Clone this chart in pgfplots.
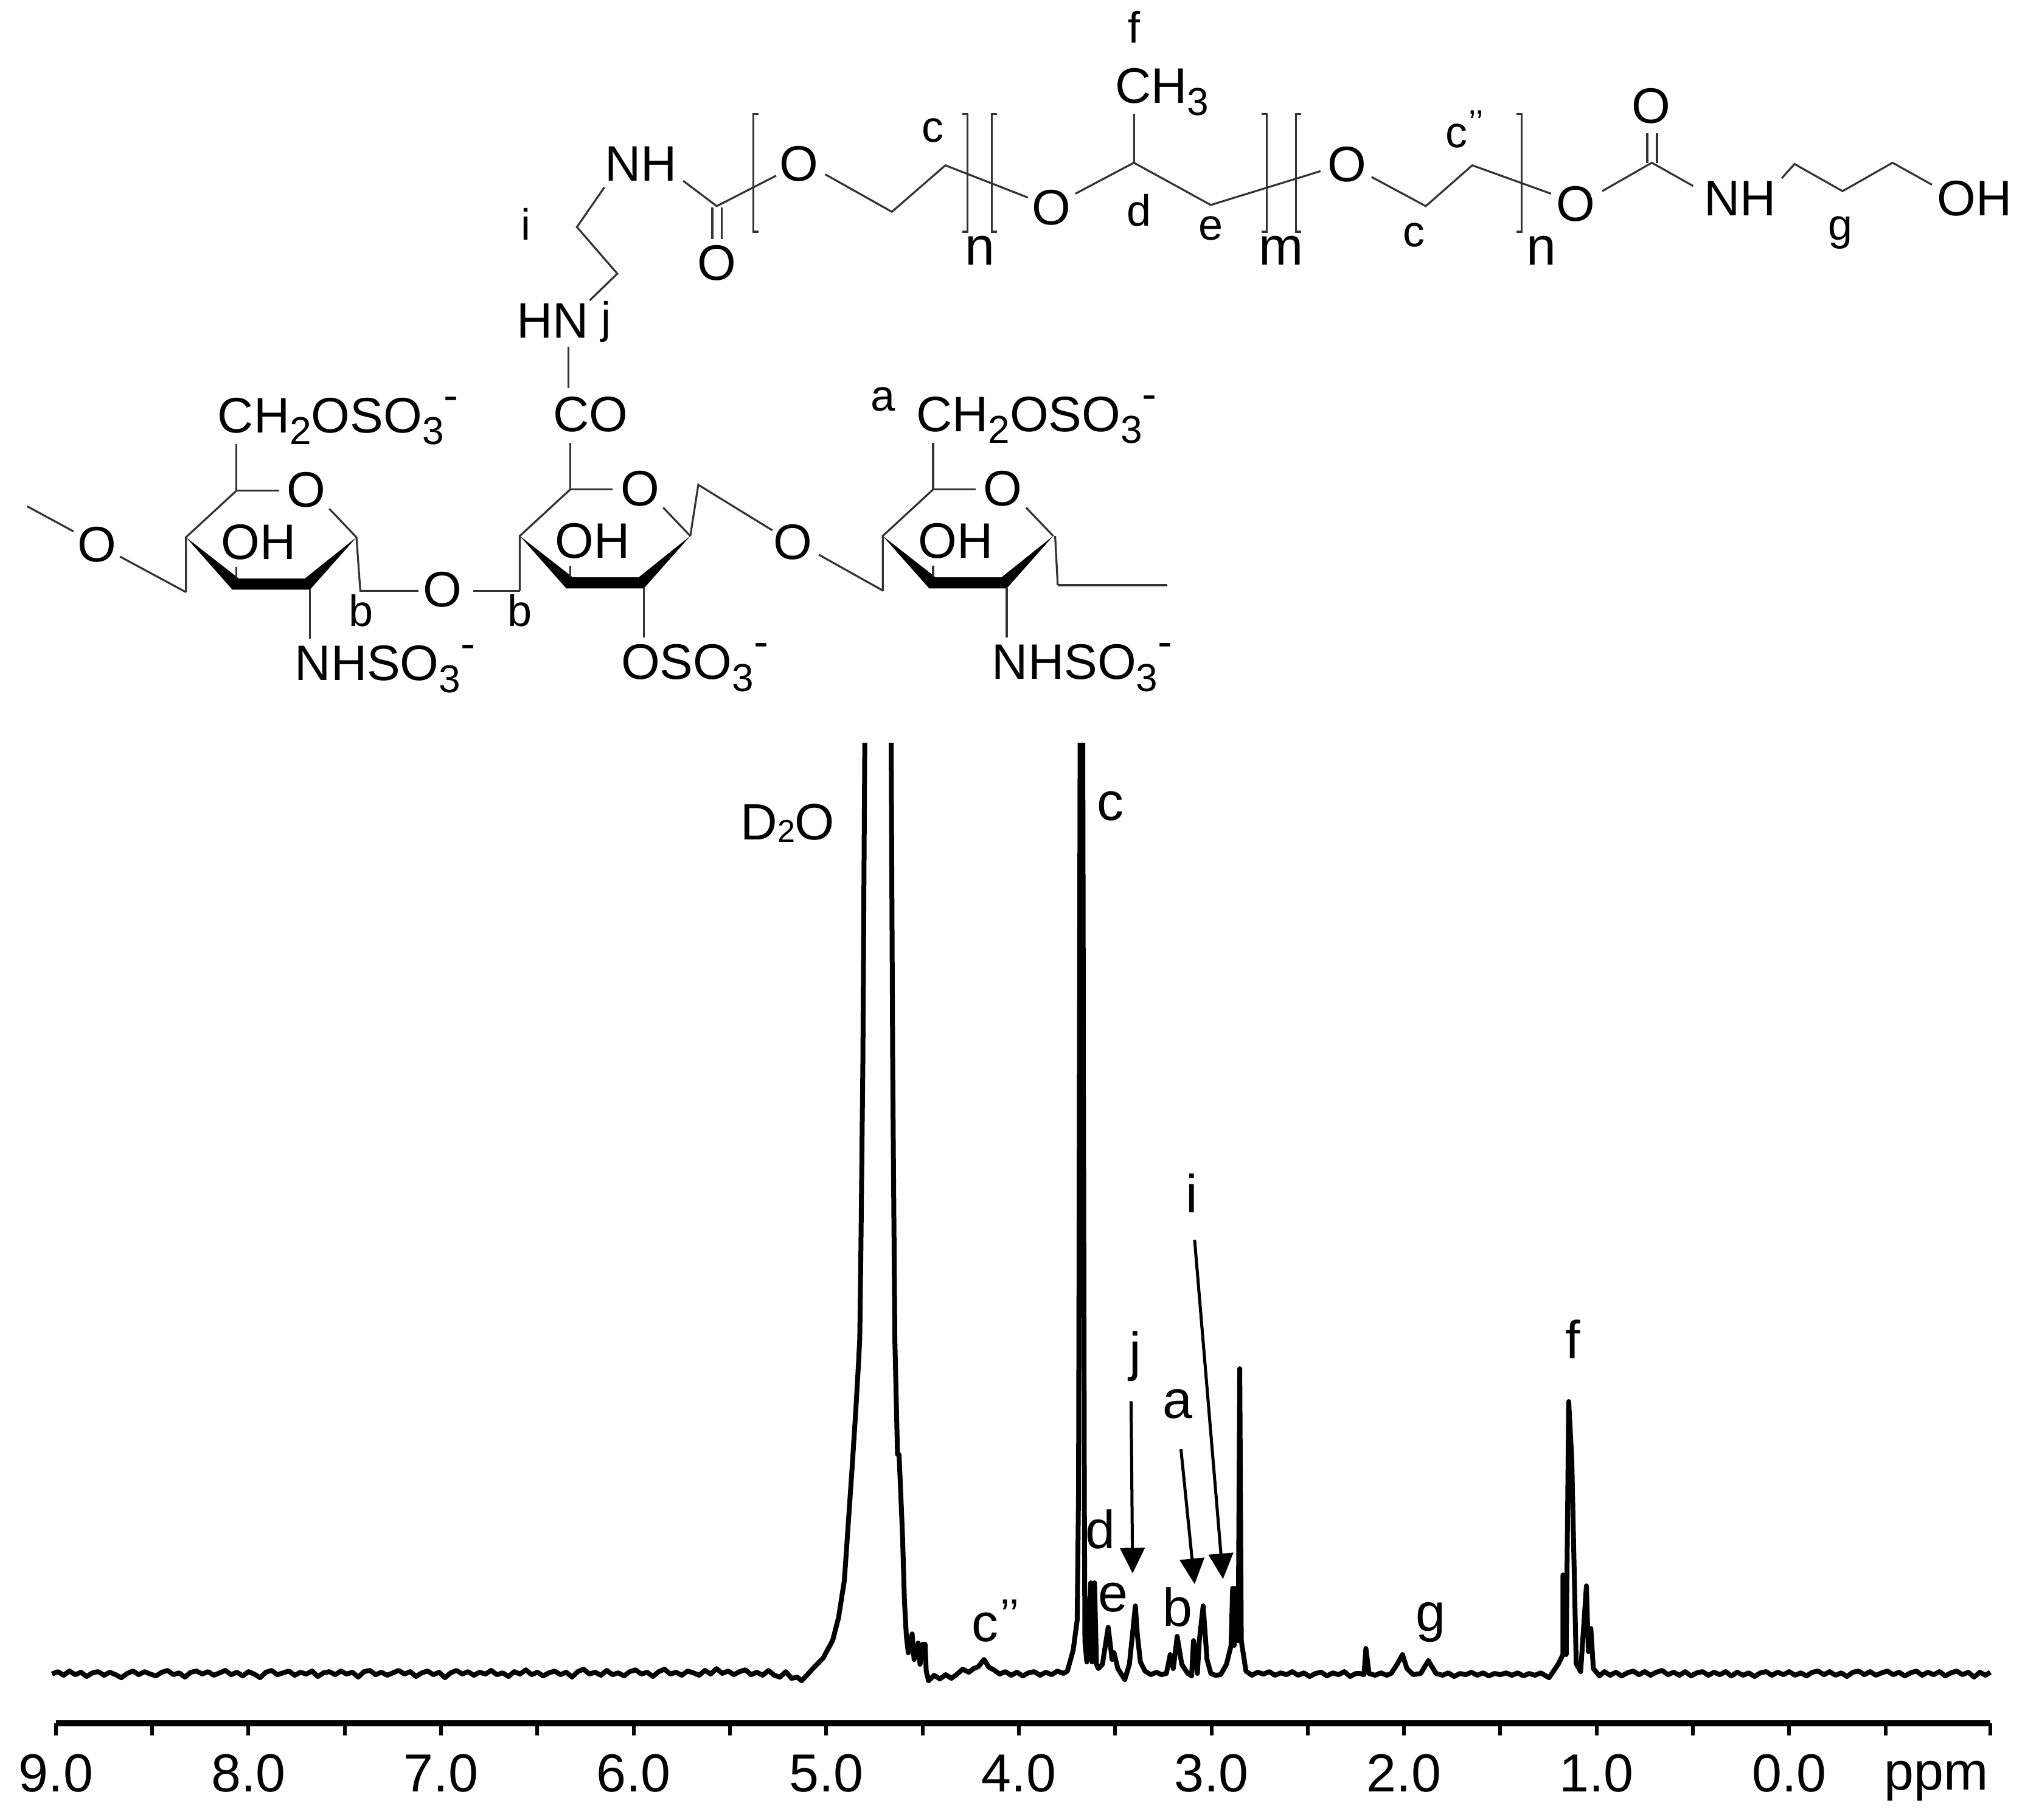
\documentclass[border=0pt]{standalone}
\usepackage{fontspec}
\setmainfont{Liberation Sans}
\usepackage{pgfplots}
\pgfplotsset{compat=1.18}
\usetikzlibrary{arrows.meta}

\newcommand{\sbs}[1]{\raisebox{-.45ex}{\fontsize{16}{16}\selectfont #1}}
\newcommand{\sps}{\raisebox{.85ex}{\fontsize{18}{18}\selectfont -}}

\begin{document}
\begin{tikzpicture}
\useasboundingbox (0,0) rectangle (832.25pt,-747.75pt);

\begin{axis}[
  at={(22.98pt,-708.26pt)}, anchor=south west,
  scale only axis, width=795pt, height=403pt,
  clip=false,
  x dir=reverse,
  xmin=-1.044, xmax=9, ymin=-82, ymax=1530,
  axis x line=bottom, axis y line=none,
  axis line style={line width=2.5pt,-},
  xtick={9,8.5,8,7.5,7,6.5,6,5.5,5,4.5,4,3.5,3,2.5,2,1.5,1,0.5,0,-0.5,-1.044},
  xticklabels={9.0,,8.0,,7.0,,6.0,,5.0,,4.0,,3.0,,2.0,,1.0,,0.0,,,},
  tick align=outside, major tick length=5pt,
  x tick style={line width=1.5pt,black},
  xticklabel style={anchor=base,yshift=-23pt,font=\fontsize{22}{24}\selectfont},
  unbounded coords=jump,
]
\addplot[black,line width=2pt,line join=round] coordinates {
 (9.02,-1) (8.99,3) (8.96,-3) (8.93,4) (8.90,-2) (8.87,2) (8.84,-5) (8.81,1) (8.78,3) (8.75,-3)
 (8.72,2) (8.69,-2) (8.66,-7) (8.63,0) (8.60,4) (8.57,-2) (8.54,3) (8.51,-1) (8.48,-4) (8.45,2)
 (8.42,5) (8.39,-2) (8.36,1) (8.33,-6) (8.30,2) (8.27,4) (8.24,-1) (8.21,3) (8.18,-3) (8.15,1)
 (8.12,5) (8.09,-2) (8.06,2) (8.03,-4) (8.00,3) (7.97,-1) (7.94,-7) (7.91,2) (7.88,5) (7.85,-2)
 (7.82,1) (7.79,4) (7.76,-3) (7.73,2) (7.70,-1) (7.67,4) (7.64,-5) (7.61,1) (7.58,3) (7.55,-2)
 (7.52,4) (7.49,-1) (7.46,2) (7.43,-6) (7.40,3) (7.37,5) (7.34,-2) (7.31,2) (7.28,-3) (7.25,1)
 (7.22,5) (7.19,-1) (7.16,3) (7.13,-5) (7.10,1) (7.07,4) (7.04,-2) (7.01,2) (6.98,-7) (6.95,1)
 (6.92,5) (6.89,-1) (6.86,3) (6.83,-3) (6.80,2) (6.77,-1) (6.74,5) (6.71,-2) (6.68,1) (6.65,-5)
 (6.62,3) (6.59,-1) (6.56,6) (6.53,-2) (6.50,2) (6.47,-4) (6.44,1) (6.41,4) (6.38,-2) (6.35,2)
 (6.32,-6) (6.29,3) (6.26,7) (6.23,-1) (6.20,2) (6.17,-3) (6.14,5) (6.11,-2) (6.08,1) (6.05,-4)
 (6.02,3) (5.99,6) (5.96,-1) (5.93,2) (5.90,-5) (5.87,3) (5.84,7) (5.81,-1) (5.78,2) (5.75,-3)
 (5.72,4) (5.69,1) (5.66,-3) (5.63,5) (5.60,-1) (5.57,8) (5.54,0) (5.51,4) (5.48,-2) (5.45,3)
 (5.42,6) (5.39,-2) (5.36,2) (5.33,-3) (5.30,5) (5.27,-3) (5.24,-6) (5.21,3) (5.18,-8) (5.15,-6) (5.128,-12)
 (5.098,-2) (5.067,9) (5.017,25) (4.967,54) (4.936,92) (4.906,153) (4.886,245) (4.866,337)
 (4.846,436) (4.832,513) (4.826,551) (4.82,700) (4.81,1000) (4.80,1530)
 (4.73,inf)
 (4.663,1530) (4.655,1000) (4.644,551) (4.630,360) (4.622,360) (4.614,302) (4.604,226) (4.594,119)
 (4.584,61) (4.574,34) (4.554,65) (4.544,23) (4.523,50) (4.513,15) (4.499,48) (4.487,48) (4.481,4) (4.469,-12)
 (4.44,-3) (4.41,-9) (4.38,-2) (4.35,-8) (4.32,-1) (4.292,7) (4.26,2) (4.235,8) (4.211,11) (4.181,23)
 (4.155,10) (4.130,6) (4.10,-1) (4.07,3) (4.04,-3) (4.01,2) (3.98,-4) (3.95,1) (3.92,3) (3.89,-3)
 (3.86,2) (3.83,-2) (3.80,4) (3.768,0) (3.748,4) (3.718,38) (3.697,88) (3.69,300) (3.682,1530)
 (3.675,inf)
 (3.668,1530) (3.66,300) (3.657,53) (3.647,19) (3.627,149) (3.62,19) (3.607,149) (3.597,15) (3.587,8)
 (3.566,15) (3.536,76) (3.516,23) (3.506,34) (3.486,8) (3.450,-10) (3.426,15) (3.395,111) (3.385,65)
 (3.369,19) (3.345,4) (3.315,-2) (3.285,2) (3.26,-2) (3.234,0) (3.214,31) (3.198,8) (3.178,61)
 (3.154,15) (3.123,0) (3.103,-4) (3.093,54) (3.073,0) (3.063,54) (3.043,111) (3.023,23) (3.003,0)
 (2.98,-3) (2.952,-2) (2.922,15) (2.898,46) (2.89,140) (2.882,46) (2.875,140) (2.861,54) (2.853,501)
 (2.845,54) (2.821,4) (2.79,-3) (2.76,2) (2.73,-1) (2.70,3) (2.67,-3) (2.64,1) (2.61,-2) (2.58,3)
 (2.55,-3) (2.52,1) (2.49,-5) (2.46,0) (2.43,2) (2.40,-4) (2.37,1) (2.34,-2) (2.31,3) (2.28,-5)
 (2.25,0) (2.231,0) (2.208,-2) (2.198,41) (2.182,0) (2.15,-3) (2.12,1) (2.09,-3) (2.067,0) (2.034,16)
 (2.008,31) (1.985,8) (1.952,-2) (1.913,0) (1.874,21) (1.834,0) (1.80,-3) (1.77,1) (1.74,-5) (1.71,0)
 (1.68,-2) (1.65,2) (1.62,-3) (1.59,1) (1.56,-4) (1.53,0) (1.50,-2) (1.47,1) (1.44,-3) (1.41,1)
 (1.38,-4) (1.35,0) (1.32,-3) (1.29,1) (1.247,-7) (1.198,16) (1.175,31) (1.175,162) (1.158,31)
 (1.145,447) (1.129,352) (1.106,16) (1.083,3) (1.053,144) (1.043,36) (1.03,74) (1.017,8) (0.985,-4)
 (0.96,3) (0.93,-3) (0.90,2) (0.87,-4) (0.84,1) (0.81,4) (0.78,-2) (0.75,3) (0.72,-3) (0.69,2)
 (0.66,5) (0.63,-2) (0.60,2) (0.57,-3) (0.54,3) (0.51,-4) (0.48,1) (0.45,3) (0.42,-3) (0.39,2)
 (0.36,-2) (0.33,3) (0.30,-4) (0.27,2) (0.24,-3) (0.21,1) (0.18,-5) (0.15,1) (0.12,3) (0.09,-3)
 (0.06,2) (0.03,-2) (0.00,3) (-0.03,-3) (-0.06,1) (-0.09,-4) (-0.12,2) (-0.15,4) (-0.18,-2) (-0.21,3)
 (-0.24,-3) (-0.27,1) (-0.30,-5) (-0.33,2) (-0.36,4) (-0.39,-2) (-0.42,3) (-0.45,-3) (-0.48,1) (-0.51,4)
 (-0.54,-2) (-0.57,2) (-0.60,-4) (-0.63,1) (-0.66,4) (-0.69,-3) (-0.72,2) (-0.75,-2) (-0.78,3) (-0.81,-4)
 (-0.84,1) (-0.87,4) (-0.90,-2) (-0.93,2) (-0.96,-6) (-0.99,2) (-1.02,-3) (-1.044,2)
};
\end{axis}

\begin{scope}[x=0.53077pt,y=-0.53077pt]
\tikzset{
  t/.style={anchor=base west,inner sep=0pt,font=\fontsize{20.5}{22}\selectfont},
  a/.style={anchor=base,inner sep=0pt,font=\fontsize{20.5}{22}\selectfont},
  s/.style={anchor=base,inner sep=0pt,font=\fontsize{18}{20}\selectfont},
  b/.style={anchor=base,inner sep=0pt,font=\fontsize{22}{24}\selectfont},
  bond/.style={line width=0.8pt,black!80},
  arr/.style={line width=1.25pt,-{Triangle[length=10.5pt,width=10pt]}},
}
% axis unit and peak labels
\node[b,anchor=base east] at (1540,1386) {ppm};
\node[t,font=\fontsize{21}{23}\selectfont] at (573,650) {D\raisebox{-.1ex}{\fontsize{13}{13}\selectfont 2}O};
\node[b] at (860,635) {c};
\node[b] at (763,1271) {c};
\node[s] at (782,1262) {’’};
\node[b] at (852,1199) {d};
\node[b] at (862,1248) {e};
\node[b] at (912,1259) {b};
\node[b] at (879,1061) {j};
\node[b] at (912,1098) {a};
\node[b] at (923,939) {i};
\node[b] at (1218,1052) {f};
\node[b] at (1108,1263) {g};
\draw[arr] (875.8,1085) -- (877,1218.3);
\draw[arr] (914.4,1122) -- (925,1226.6);
\draw[arr] (925,960) -- (947,1222.7);

% top chain
\draw[bond] (529,140) -- (555,159.6) -- (601,136);
\draw[bond] (639,135) -- (690.6,164) -- (732,128) -- (796,153);
\draw[bond] (832.6,150) -- (878,126) -- (937.5,158.7) -- (1022.5,132.5);
\draw[bond] (1062,137) -- (1104,159.6) -- (1140,128) -- (1201,150);
\draw[bond] (1240.6,148) -- (1279,126) -- (1311,144);
\draw[bond] (1275.5,126) -- (1275.5,103) (1283,126) -- (1283,103);
\draw[bond] (1379.6,138) -- (1389.5,127) -- (1426.7,148) -- (1465.4,126) -- (1495.9,143);
\draw[bond] (878,88) -- (878,126);
\draw[bond] (551.5,160.5) -- (551.5,185) (559,160.5) -- (559,185);
\draw[bond] (468,145) -- (446.7,175.8) -- (478,211.9) -- (456.6,232.6);
\draw[bond] (440,268.6) -- (440,300.6);
% brackets
\draw[bond] (587.4,88.3) -- (583.4,88.3) -- (583.4,179.4) -- (587.4,179.4);
\draw[bond] (745,88.3) -- (749,88.3) -- (749,179.4) -- (745,179.4);
\draw[bond] (772,88.3) -- (768,88.3) -- (768,179.4) -- (772,179.4);
\draw[bond] (976.8,88.3) -- (980.8,88.3) -- (980.8,179.4) -- (976.8,179.4);
\draw[bond] (1007.5,88.3) -- (1003.5,88.3) -- (1003.5,179.4) -- (1007.5,179.4);
\draw[bond] (1174.3,88.3) -- (1178.3,88.3) -- (1178.3,179.4) -- (1174.3,179.4);

\node[t] at (468,140) {NH};
\node[a] at (618.4,140) {O};
\node[a] at (814,174) {O};
\node[a] at (1043,140.6) {O};
\node[a] at (1220,171) {O};
\node[a] at (1278.6,95.6) {O};
\node[a] at (555,217) {O};
\node[t] at (1319,167) {NH};
\node[t] at (1499.6,167) {OH};
\node[t] at (863,80) {CH\sbs{3}};
\node[t] at (399.6,261.4) {HN};
\node[s] at (469.5,258) {j};
\node[s] at (878,33) {f};
\node[s] at (722.5,110) {c};
\node[s] at (1128,114) {c};
\node[s,font=\fontsize{14}{14}\selectfont] at (1143,104) {’’};
\node[s] at (882,175) {d};
\node[s] at (937.5,186) {e};
\node[s] at (1094.7,191) {c};
\node[s] at (1425,186) {g};
\node[s] at (407,186) {i};
\node[b] at (759,205) {n};
\node[b] at (992,205) {m};
\node[b] at (1193.5,205) {n};

% sugar rings
\foreach \dx/\dy in {0/0,258.5/-1,539.5/-1}{
  \begin{scope}[shift={(\dx,\dy)}]
    \fill[black] (144,416) -- (180,456.6) -- (240,456.6) -- (276,416) -- (236,448) -- (185,448) -- cycle;
    \draw[bond] (183,380) -- (144,416) -- (144,458.5);
    \draw[bond] (183,380) -- (216,380);
    \draw[bond] (255,394) -- (276,416);
    \draw[bond] (183,344) -- (183,380);
    \draw[bond] (183,439) -- (183,448);
    \draw[bond] (240,456.6) -- (240,494.4);
    \node[a] at (237,392.6) {O};
    \node[t] at (171,433) {OH};
  \end{scope}
}
\draw[bond] (21,392) -- (57,411.5);
\draw[bond] (93,431) -- (144,458.5);
\draw[bond] (276,416) -- (279,457.5) -- (324,457.5);
\draw[bond] (366.5,457.5) -- (402.5,457.5);
\draw[bond] (534.5,415) -- (540.7,375.4) -- (598,410.6);
\draw[bond] (634,429.5) -- (684,457.5);
\draw[bond] (817,415) -- (819,453);
\draw[line width=1.1pt,black!80] (819,453) -- (904,453);
\node[a] at (75,435) {O};
\node[a] at (342.5,470) {O};
\node[a] at (614,433) {O};
\node[t] at (168.2,335) {CH\sbs{2}OSO\sbs{3}\sps};
\node[t] at (228,527) {NHSO\sbs{3}\sps};
\node[t] at (427.8,334) {CO};
\node[t] at (480.6,526) {OSO\sbs{3}\sps};
\node[t] at (709,334) {CH\sbs{2}OSO\sbs{3}\sps};
\node[t] at (767.8,526) {NHSO\sbs{3}\sps};
\node[s] at (683.7,318) {a};
\node[s] at (279.4,485) {b};
\node[s] at (402.5,485) {b};
\end{scope}
\end{tikzpicture}
\end{document}
